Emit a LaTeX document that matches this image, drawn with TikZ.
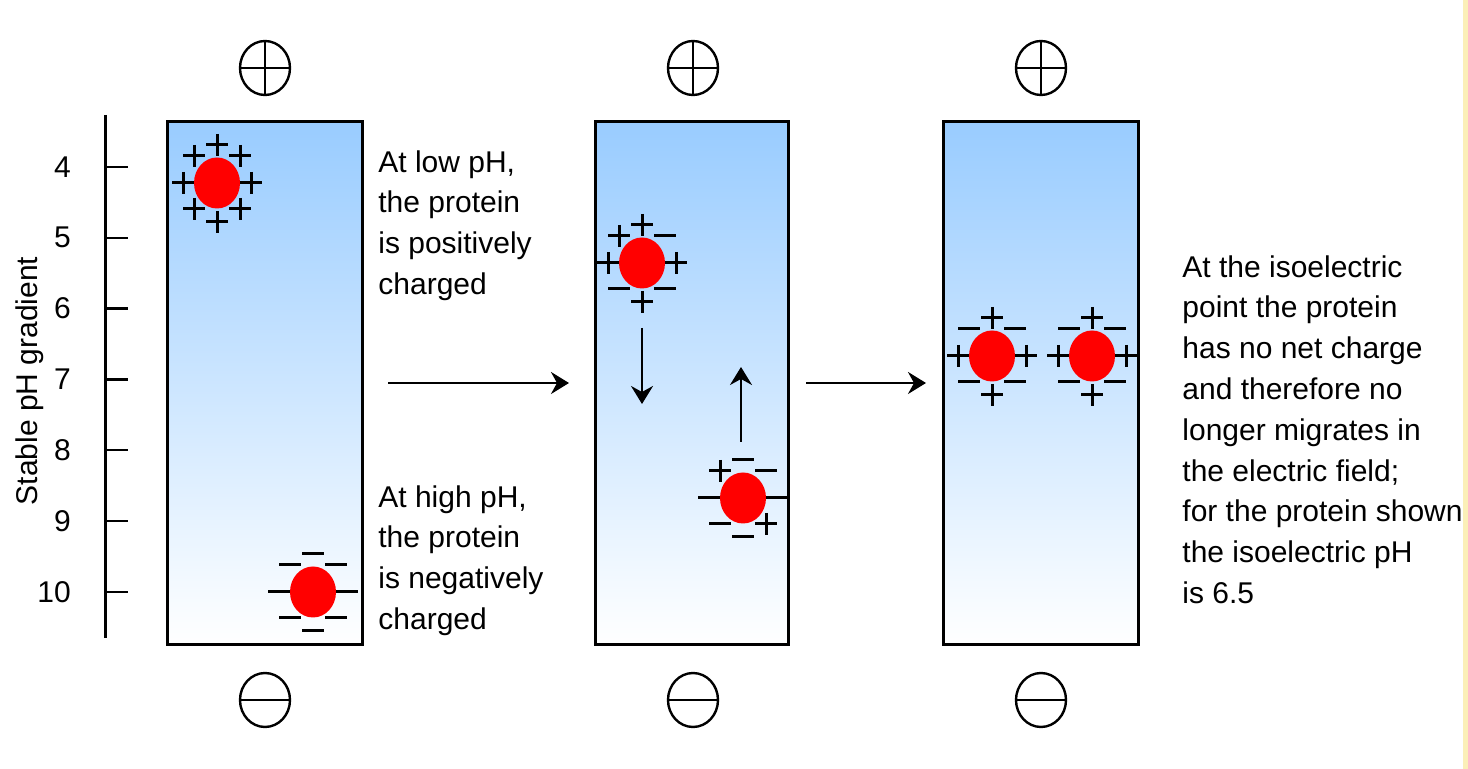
\documentclass[tikz,border=0pt]{standalone}
\usepackage{fontspec}
\setmainfont{Liberation Sans}
\usetikzlibrary{arrows.meta,shapes.geometric}
\definecolor{gelblue}{HTML}{99CCFF}
\definecolor{edgeyellow}{HTML}{FBEFB8}
\tikzset{
  gel/.style={draw,line width=1.5pt},
  protein/.style={ellipse,fill=red,minimum width=23pt,minimum height=25.5pt,inner sep=0pt},
  electrode/.style={ellipse,draw,line width=1.2pt,minimum width=25pt,minimum height=27pt,inner sep=0pt},
  sign/.style={line width=1.5pt},
  poscharge/.pic={\draw[sign] (-11,0) -- (11,0) (0,-11) -- (0,11);},
  negcharge/.pic={\draw[sign] (-11,0) -- (11,0);},
  move/.style={-{Stealth[length=9pt,width=11pt,inset=3pt]},line width=1.1pt},
  note/.style={align=left,anchor=north west,inner sep=0pt,font=\fontsize{15}{20.4}\selectfont}
}
% ring of eight charges round a protein: top, upper left/right, left/right, lower left/right, bottom
\newcommand{\chargering}[9]{%
  \pic at ([shift={(0,-38)}]#1) {#2charge};
  \pic at ([shift={(-23,-27)}]#1) {#3charge};
  \pic at ([shift={(23,-27)}]#1) {#4charge};
  \pic at ([shift={(-34,0)}]#1) {#5charge};
  \pic at ([shift={(34,0)}]#1) {#6charge};
  \pic at ([shift={(-23,26)}]#1) {#7charge};
  \pic at ([shift={(23,26)}]#1) {#8charge};
  \pic at ([shift={(0,39)}]#1) {#9charge};
}
\begin{document}
\begin{tikzpicture}[x=0.5pt,y=-0.5pt]
\useasboundingbox (0,0) rectangle (1468,769);
\fill[edgeyellow] (1463,0) rectangle (1468,769);
% pH scale
\draw[line width=1.5pt] (105,115) -- (105,638);
\foreach \ph [count=\i from 0] in {4,...,10}
  \draw[line width=1.2pt] (105,167+70.8*\i) -- (128,167+70.8*\i)
    node[anchor=east,inner sep=0pt,font=\fontsize{15}{18}\selectfont] at (72,167+70.8*\i) {\ph};
\node[rotate=90,font=\fontsize{15}{18}\selectfont] (scale) at (30,381) {Stable pH gradient};
% gel strips
\shade[top color=gelblue,bottom color=white] (167,122) rectangle (362,645);
\draw[gel] (167,122) rectangle (362,645);
\shade[top color=gelblue,bottom color=white] (595,122) rectangle (788,645);
\draw[gel] (595,122) rectangle (788,645);
\shade[top color=gelblue,bottom color=white] (943,122) rectangle (1138,645);
\draw[gel] (943,122) rectangle (1138,645);
% electrodes
\foreach \x [count=\k] in {265,693,1041} {
  \node[electrode] (anode\k) at (\x,68) {};
  \draw[line width=1.2pt] (anode\k.north) -- (anode\k.south) (anode\k.west) -- (anode\k.east);
  \node[electrode] (cathode\k) at (\x,700) {};
  \draw[line width=1.2pt] (cathode\k.west) -- (cathode\k.east);
}
% proteins in the first strip
\node[protein] (p1) at (217,183) {};
\chargering{p1}{pos}{pos}{pos}{pos}{pos}{pos}{pos}{pos}
\node[protein] (p2) at (313,592) {};
\chargering{p2}{neg}{neg}{neg}{neg}{neg}{neg}{neg}{neg}
% proteins moving in the second strip
\node[protein] (p3) at (642,263) {};
\chargering{p3}{pos}{pos}{neg}{pos}{pos}{neg}{neg}{pos}
\node[protein] (p4) at (743,498) {};
\chargering{p4}{neg}{pos}{neg}{neg}{neg}{neg}{pos}{neg}
% proteins at the isoelectric point
\node[protein] (p5) at (992,356) {};
\chargering{p5}{pos}{neg}{neg}{pos}{pos}{neg}{neg}{pos}
\node[protein] (p6) at (1092,356) {};
\chargering{p6}{pos}{neg}{neg}{pos}{pos}{neg}{neg}{pos}
% arrows
\coordinate (a1) at (388,383);
\coordinate (b1) at (569,383);
\coordinate (a2) at (806,383);
\coordinate (b2) at (926,383);
\coordinate (down1) at (642,328);
\coordinate (down2) at (642,404);
\coordinate (up1) at (741,442);
\coordinate (up2) at (741,367);
\draw[move] (a1) -- (b1);
\draw[move] (a2) -- (b2);
\draw[move] (down1) -- (down2);
\draw[move] (up1) -- (up2);
% notes
\node[note] (lowph) at (378,150) {At low pH,\\the protein\\is positively\\charged};
\node[note] (highph) at (378,485) {At high pH,\\the protein\\is negatively\\charged};
\node[note] (pI) at (1182,255) {At the isoelectric\\point the protein\\has no net charge\\and therefore no\\longer migrates in\\the electric field;\\for the protein shown\\the isoelectric pH\\is 6.5};
\end{tikzpicture}
\end{document}
